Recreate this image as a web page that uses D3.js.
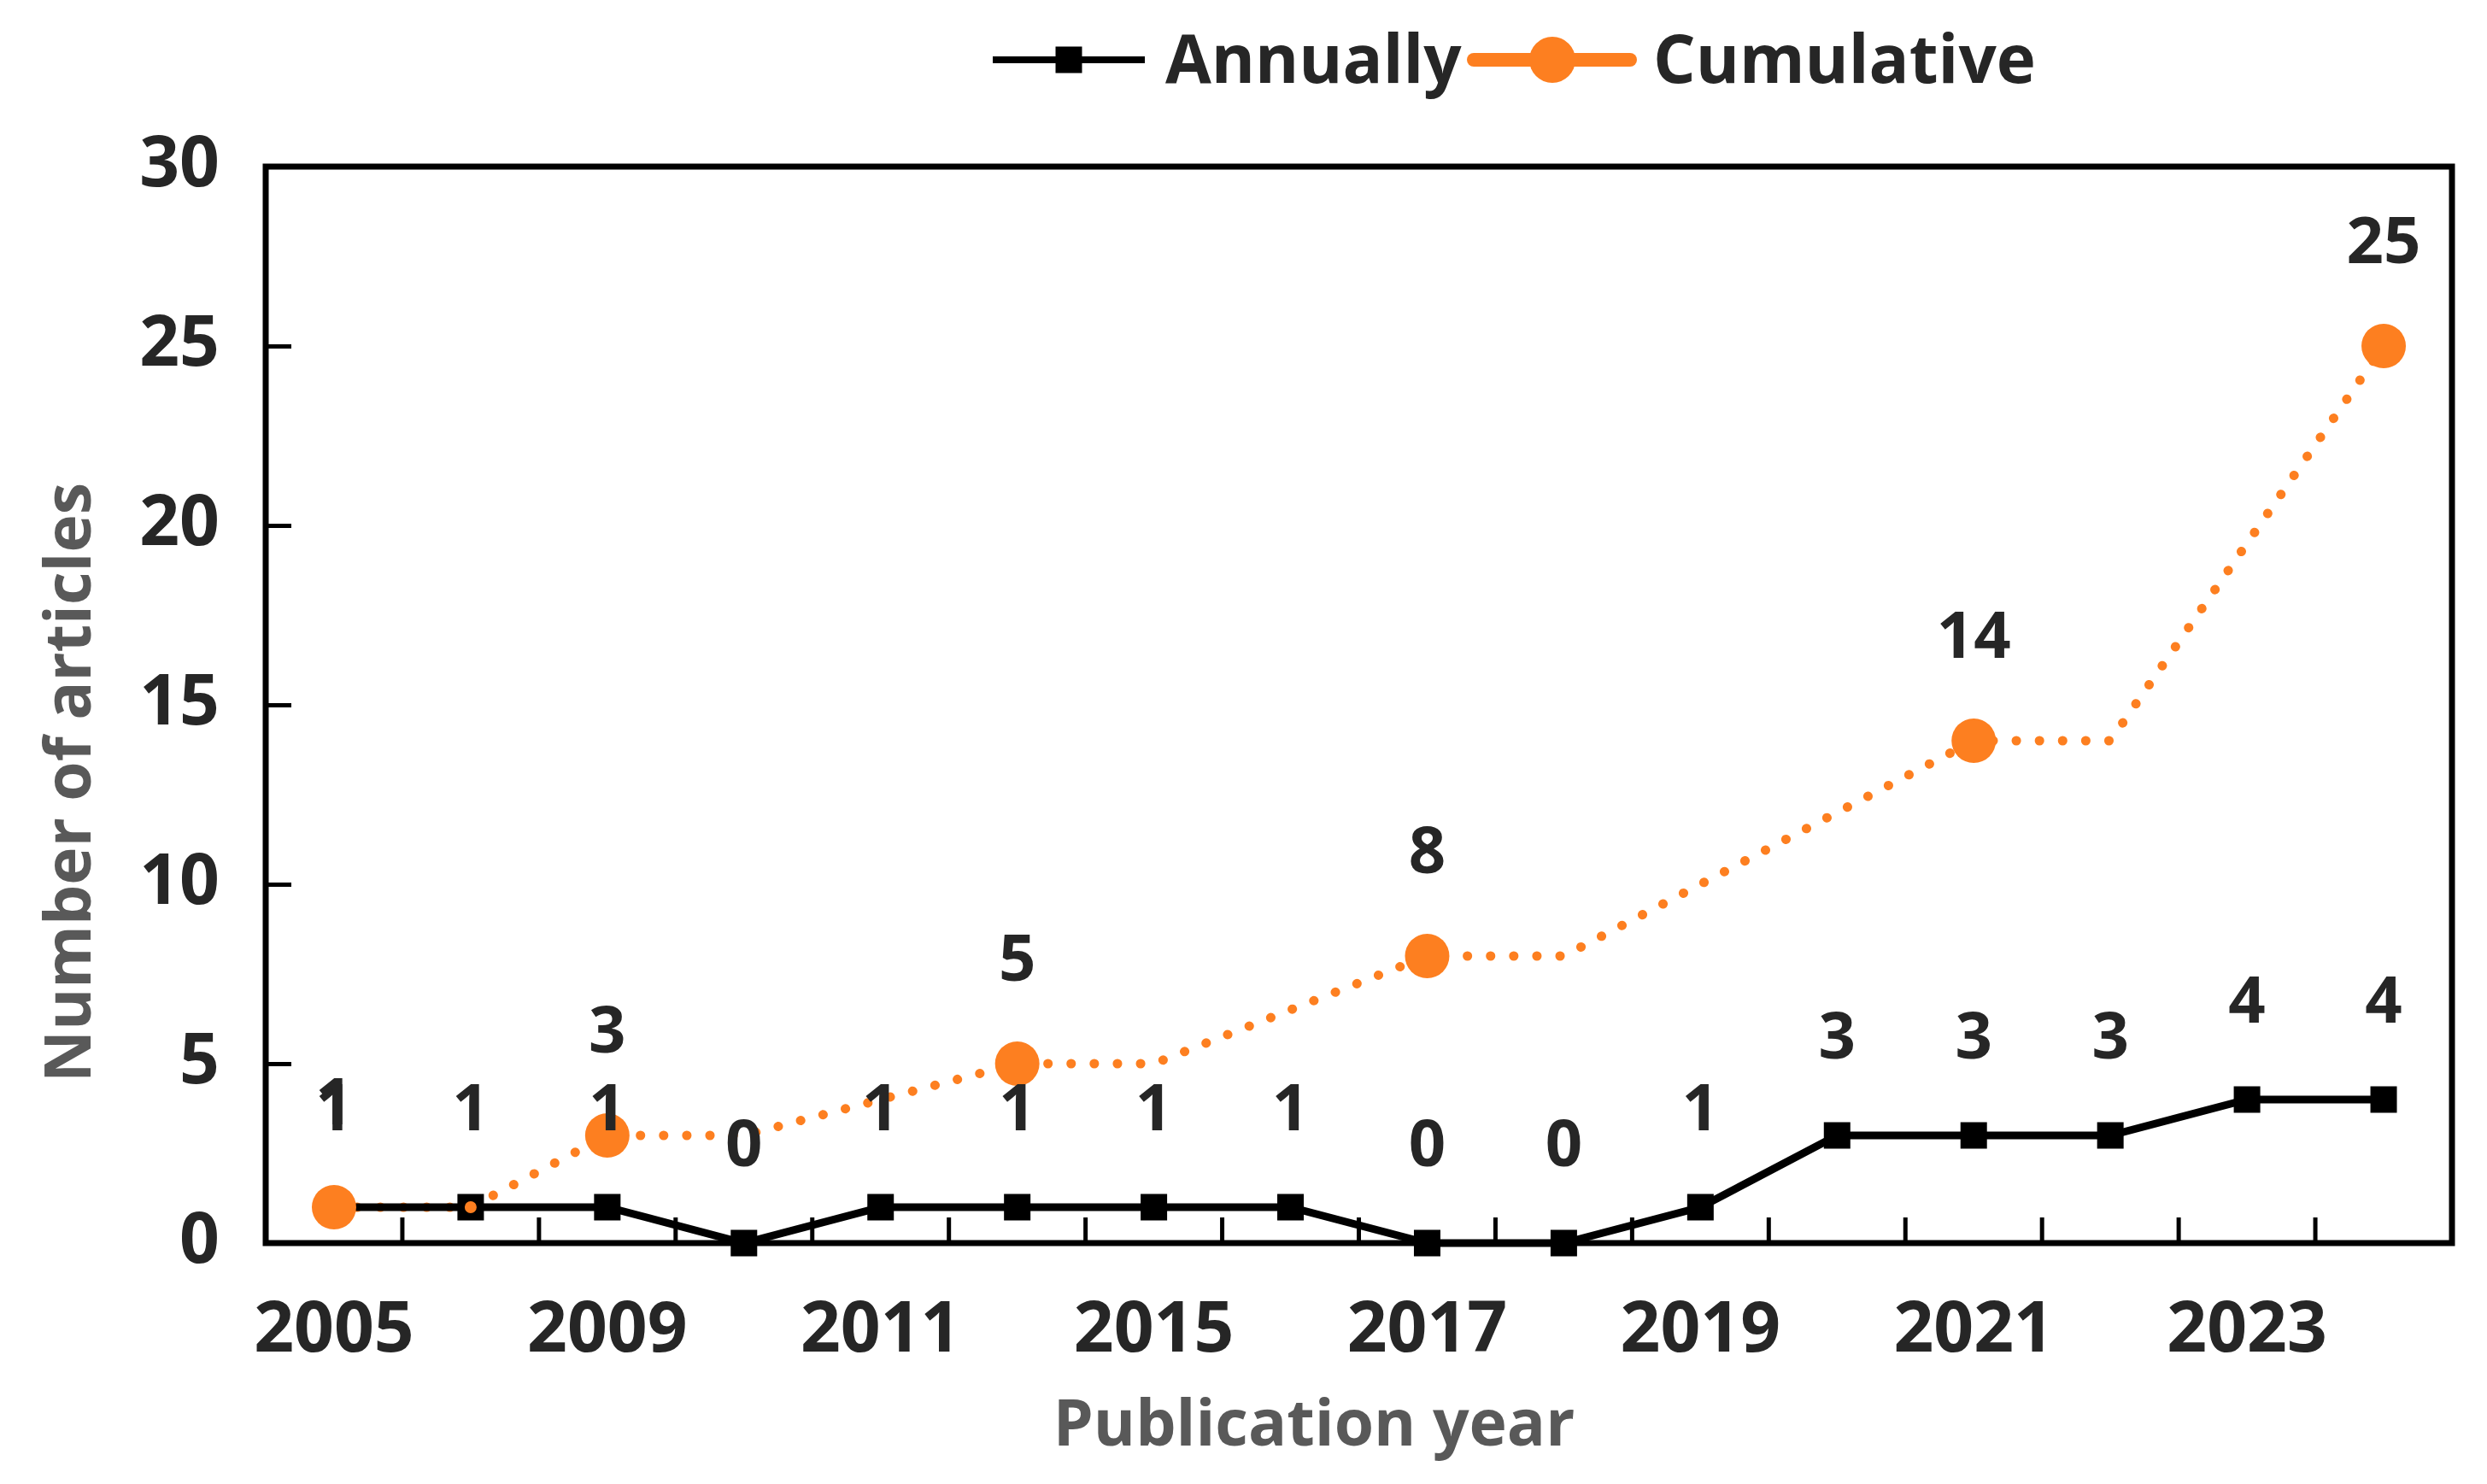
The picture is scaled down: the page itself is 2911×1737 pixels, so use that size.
<!DOCTYPE html>
<html>
<head>
<meta charset="utf-8">
<script src="https://cdn.jsdelivr.net/npm/d3@7"></script>
<style>
  body { margin: 0; background: #fff; }
  svg { display: block; }
</style>
</head>
<body>
<svg id="root"></svg>
<script>
// data
const years = ["2005", "2007", "2009", "2010", "2011", "2013", "2015", "2016",
  "2017", "2018", "2019", "2020", "2021", "2022", "2023", "2024"];
const annually = [1, 1, 1, 0, 1, 1, 1, 1, 0, 0, 1, 3, 3, 3, 4, 4];
// cumulative series only has values at some years, the line skips the gaps
const cumulative = [1, 1, 3, 3, null, 5, 5, null, 8, 8, null, null, 14, 14, null, 25];
const cumulativeMarked = ["2005", "2009", "2013", "2017", "2021", "2024"];
const cumulativeMinor = ["2007"];
const yearTicks = ["2005", "2009", "2011", "2015", "2017", "2019", "2021", "2023"];
const valueTicks = [0, 5, 10, 15, 20, 25, 30];

const draw = () => {
  const width = 2911,
    height = 1737;
  const margin = { left: 311, right: 41, top: 195, bottom: 282 };
  const font = "'Open Sans', 'Noto Sans', sans-serif";
  const orange = "#fd7f20";
  const textColor = "#262626";

  const svg = d3.select("svg#root")
    .attr("width", width)
    .attr("height", height)
    .attr("viewBox", [0, 0, width, height]);

  const x = d3.scaleBand()
    .domain(years)
    .range([margin.left, width - margin.right]);
  const cx = (d) => x(d) + x.bandwidth() / 2;

  const y = d3.scaleLinear()
    .domain([0, 30])
    .range([height - margin.bottom, margin.top]);

  const rows = years.map((year, i) => ({
    year,
    annual: annually[i],
    cum: cumulative[i],
  }));

  // y axis, ticks point into the plot
  const yAxis = svg.append("g")
    .attr("transform", `translate(${margin.left},0)`)
    .call(d3.axisLeft(y).tickValues(valueTicks).tickSize(-30).tickPadding(54));
  yAxis.select(".domain").remove();
  yAxis.selectAll(".tick line").attr("stroke", "#000").attr("stroke-width", 5);
  yAxis.selectAll(".tick text")
    .attr("font-family", font)
    .attr("font-size", "82px")
    .attr("font-weight", "700")
    .attr("fill", textColor)
    .attr("dy", "0.28em");

  // x axis labels (every other year)
  const xAxis = svg.append("g")
    .attr("transform", `translate(0,${y(0)})`)
    .call(d3.axisBottom(x).tickValues(yearTicks).tickSize(0).tickPadding(0));
  xAxis.select(".domain").remove();
  xAxis.selectAll(".tick text")
    .attr("font-family", font)
    .attr("font-size", "82px")
    .attr("font-weight", "700")
    .attr("fill", textColor)
    .attr("dy", null)
    .attr("y", 127);

  // x tick marks sit on the band edges, pointing up
  svg.append("g")
    .selectAll("line")
    .data(years.slice(1))
    .join("line")
    .attr("x1", (d) => x(d))
    .attr("x2", (d) => x(d))
    .attr("y1", y(0))
    .attr("y2", y(0) - 30)
    .attr("stroke", "#000")
    .attr("stroke-width", 5);

  // frame
  svg.append("rect")
    .attr("x", margin.left)
    .attr("y", margin.top)
    .attr("width", width - margin.left - margin.right)
    .attr("height", y(0) - margin.top)
    .attr("fill", "none")
    .attr("stroke", "#000")
    .attr("stroke-width", 7);

  // cumulative dotted line
  const cumLine = d3.line()
    .x((d) => cx(d.year))
    .y((d) => y(d.cum));
  svg.append("path")
    .datum(rows.filter((d) => d.cum != null))
    .attr("d", cumLine)
    .attr("fill", "none")
    .attr("stroke", orange)
    .attr("stroke-width", 11)
    .attr("stroke-linecap", "round")
    .attr("stroke-dasharray", "0.1 27");

  // annual line + square markers
  const annualLine = d3.line()
    .x((d) => cx(d.year))
    .y((d) => y(d.annual));
  svg.append("path")
    .datum(rows)
    .attr("d", annualLine)
    .attr("fill", "none")
    .attr("stroke", "#000")
    .attr("stroke-width", 9);

  const sq = 31;
  svg.append("g")
    .selectAll("rect")
    .data(rows)
    .join("rect")
    .attr("x", (d) => cx(d.year) - sq / 2)
    .attr("y", (d) => y(d.annual) - sq / 2)
    .attr("width", sq)
    .attr("height", sq)
    .attr("fill", "#000");

  // cumulative markers
  const marked = rows.filter((d) => cumulativeMarked.includes(d.year));
  svg.append("g")
    .selectAll("circle")
    .data(marked)
    .join("circle")
    .attr("cx", (d) => cx(d.year))
    .attr("cy", (d) => y(d.cum))
    .attr("r", 26)
    .attr("fill", orange);
  svg.append("g")
    .selectAll("circle")
    .data(rows.filter((d) => cumulativeMinor.includes(d.year)))
    .join("circle")
    .attr("cx", (d) => cx(d.year))
    .attr("cy", (d) => y(d.cum))
    .attr("r", 7)
    .attr("fill", orange);

  // data labels
  const label = (sel) =>
    sel
      .attr("text-anchor", "middle")
      .attr("font-family", font)
      .attr("font-size", "76px")
      .attr("font-weight", "700")
      .attr("fill", textColor);

  svg.append("g")
    .selectAll("text")
    .data(rows)
    .join("text")
    .attr("x", (d) => cx(d.year))
    .attr("y", (d) => y(d.annual) - 90)
    .text((d) => d.annual)
    .call(label);

  svg.append("g")
    .selectAll("text")
    .data(marked)
    .join("text")
    .attr("x", (d) => cx(d.year))
    .attr("y", (d) => y(d.cum) - 97)
    .text((d) => d.cum)
    .call(label);

  // axis titles
  svg.append("text")
    .attr("transform", `translate(106,916) rotate(-90)`)
    .attr("text-anchor", "middle")
    .attr("font-family", font)
    .attr("font-size", "75px")
    .attr("font-weight", "700")
    .attr("fill", "#595959")
    .text("Number of articles");

  svg.append("text")
    .attr("x", 1538)
    .attr("y", 1692)
    .attr("text-anchor", "middle")
    .attr("font-family", font)
    .attr("font-size", "75px")
    .attr("font-weight", "700")
    .attr("fill", "#595959")
    .text("Publication year");

  // legend
  const legend = svg.append("g");
  const ly = 70;
  legend.append("line")
    .attr("x1", 1162).attr("x2", 1340)
    .attr("y1", ly).attr("y2", ly)
    .attr("stroke", "#000").attr("stroke-width", 8);
  legend.append("rect")
    .attr("x", 1251 - sq / 2).attr("y", ly - sq / 2)
    .attr("width", sq).attr("height", sq)
    .attr("fill", "#000");
  legend.append("text")
    .attr("x", 1364).attr("y", 97)
    .attr("font-family", font)
    .attr("font-size", "78px")
    .attr("font-weight", "700")
    .attr("fill", textColor)
    .text("Annually");

  legend.append("line")
    .attr("x1", 1725).attr("x2", 1908)
    .attr("y1", ly).attr("y2", ly)
    .attr("stroke", orange).attr("stroke-width", 16)
    .attr("stroke-linecap", "round");
  legend.append("circle")
    .attr("cx", 1817).attr("cy", ly)
    .attr("r", 27)
    .attr("fill", orange);
  legend.append("text")
    .attr("x", 1935).attr("y", 97)
    .attr("font-family", font)
    .attr("font-size", "78px")
    .attr("font-weight", "700")
    .attr("fill", textColor)
    .text("Cumulative");

  return svg.node();
};

draw();
</script>
</body>
</html>
